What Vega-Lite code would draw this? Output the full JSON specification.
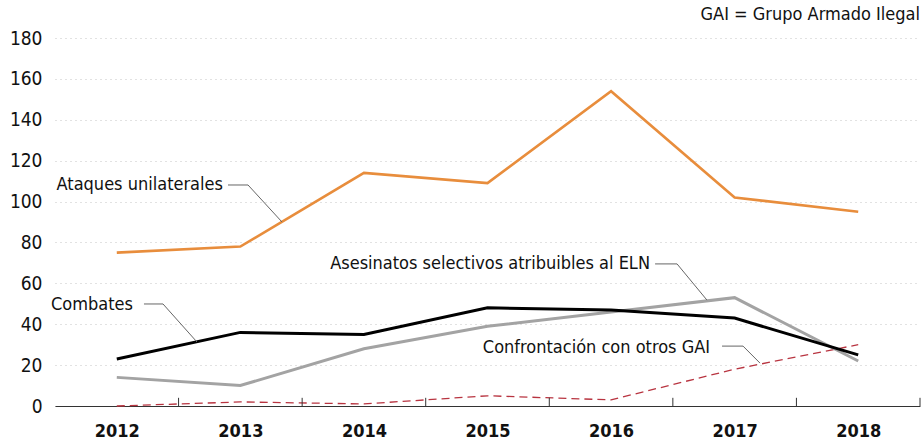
{
  "$schema": "https://vega.github.io/schema/vega-lite/v6.json",
  "autosize": "none",
  "width": 865,
  "height": 368,
  "padding": {"left": 55, "top": 38, "right": 3, "bottom": 35},
  "background": "white",
  "config": {
    "view": {"stroke": null},
    "font": "DejaVu Sans Condensed",
    "axis": {"labelFont": "DejaVu Sans Condensed", "labelColor": "#111"}
  },
  "datasets": {
    "series": [
      {"year": 2012, "value": 75, "series": "Ataques unilaterales"},
      {"year": 2013, "value": 78, "series": "Ataques unilaterales"},
      {"year": 2014, "value": 114, "series": "Ataques unilaterales"},
      {"year": 2015, "value": 109, "series": "Ataques unilaterales"},
      {"year": 2016, "value": 154, "series": "Ataques unilaterales"},
      {"year": 2017, "value": 102, "series": "Ataques unilaterales"},
      {"year": 2018, "value": 95, "series": "Ataques unilaterales"},
      {"year": 2012, "value": 14, "series": "Asesinatos selectivos atribuibles al ELN"},
      {"year": 2013, "value": 10, "series": "Asesinatos selectivos atribuibles al ELN"},
      {"year": 2014, "value": 28, "series": "Asesinatos selectivos atribuibles al ELN"},
      {"year": 2015, "value": 39, "series": "Asesinatos selectivos atribuibles al ELN"},
      {"year": 2016, "value": 46, "series": "Asesinatos selectivos atribuibles al ELN"},
      {"year": 2017, "value": 53, "series": "Asesinatos selectivos atribuibles al ELN"},
      {"year": 2018, "value": 22, "series": "Asesinatos selectivos atribuibles al ELN"},
      {"year": 2012, "value": 23, "series": "Combates"},
      {"year": 2013, "value": 36, "series": "Combates"},
      {"year": 2014, "value": 35, "series": "Combates"},
      {"year": 2015, "value": 48, "series": "Combates"},
      {"year": 2016, "value": 47, "series": "Combates"},
      {"year": 2017, "value": 43, "series": "Combates"},
      {"year": 2018, "value": 25, "series": "Combates"},
      {"year": 2012, "value": 0, "series": "Confrontación con otros GAI"},
      {"year": 2013, "value": 2, "series": "Confrontación con otros GAI"},
      {"year": 2014, "value": 1, "series": "Confrontación con otros GAI"},
      {"year": 2015, "value": 5, "series": "Confrontación con otros GAI"},
      {"year": 2016, "value": 3, "series": "Confrontación con otros GAI"},
      {"year": 2017, "value": 18, "series": "Confrontación con otros GAI"},
      {"year": 2018, "value": 30, "series": "Confrontación con otros GAI"}
    ],
    "ticks": [
      {"x": 2012.5}, {"x": 2013.5}, {"x": 2014.5}, {"x": 2015.5},
      {"x": 2016.5}, {"x": 2017.5}, {"x": 2018.5}
    ],
    "leaders": [
      {"id": "a", "o": 1, "x": 2012.9, "y": 108.1},
      {"id": "a", "o": 2, "x": 2013.062, "y": 108.1},
      {"id": "a", "o": 3, "x": 2013.337, "y": 90.0},
      {"id": "c", "o": 1, "x": 2012.22, "y": 49.9},
      {"id": "c", "o": 2, "x": 2012.374, "y": 49.9},
      {"id": "c", "o": 3, "x": 2012.649, "y": 31.3},
      {"id": "s", "o": 1, "x": 2016.356, "y": 69.5},
      {"id": "s", "o": 2, "x": 2016.534, "y": 69.5},
      {"id": "s", "o": 3, "x": 2016.776, "y": 51.8},
      {"id": "g", "o": 1, "x": 2016.898, "y": 29.3},
      {"id": "g", "o": 2, "x": 2017.068, "y": 29.3},
      {"id": "g", "o": 3, "x": 2017.205, "y": 21.0}
    ],
    "labels": [
      {"x": 2012.859, "y": 108.1, "text": "Ataques unilaterales"},
      {"x": 2012.131, "y": 49.4, "text": "Combates"},
      {"x": 2016.315, "y": 69.5, "text": "Asesinatos selectivos atribuibles al ELN"},
      {"x": 2016.801, "y": 28.4, "text": "Confrontación con otros GAI"},
      {"x": 2018.5, "y": 191.3, "text": "GAI = Grupo Armado Ilegal"}
    ]
  },
  "layer": [
    {
      "data": {"name": "series"},
      "transform": [{"filter": "datum.series === 'Confrontación con otros GAI'"}],
      "mark": {"type": "line", "clip": false, "color": "#B83440", "strokeWidth": 1.3, "strokeDash": [8, 5]},
      "encoding": {
        "x": {
          "field": "year", "type": "quantitative",
          "scale": {"domain": [2011.5, 2018.5], "nice": false, "zero": false},
          "axis": {
            "title": null, "values": [2012, 2013, 2014, 2015, 2016, 2017, 2018],
            "format": "d", "ticks": false, "grid": false,
            "domainColor": "#333", "domainWidth": 1,
            "labelFontSize": 18, "labelFontWeight": "bold", "labelPadding": 16
          }
        },
        "y": {
          "field": "value", "type": "quantitative",
          "scale": {"domain": [0, 180], "nice": false},
          "axis": {
            "title": null, "values": [0, 20, 40, 60, 80, 100, 120, 140, 160, 180],
            "ticks": false, "domain": false, "grid": true,
            "gridColor": "#c4c4c4", "gridDash": [1, 4], "gridWidth": 1,
            "labelFontSize": 19, "labelPadding": 13
          }
        }
      }
    },
    {
      "data": {"name": "series"},
      "transform": [{"filter": "datum.series === 'Asesinatos selectivos atribuibles al ELN'"}],
      "mark": {"type": "line", "clip": false, "color": "#A3A3A3", "strokeWidth": 3},
      "encoding": {
        "x": {"field": "year", "type": "quantitative"},
        "y": {"field": "value", "type": "quantitative"}
      }
    },
    {
      "data": {"name": "series"},
      "transform": [{"filter": "datum.series === 'Combates'"}],
      "mark": {"type": "line", "clip": false, "color": "#000000", "strokeWidth": 3},
      "encoding": {
        "x": {"field": "year", "type": "quantitative"},
        "y": {"field": "value", "type": "quantitative"}
      }
    },
    {
      "data": {"name": "series"},
      "transform": [{"filter": "datum.series === 'Ataques unilaterales'"}],
      "mark": {"type": "line", "clip": false, "color": "#E88D3C", "strokeWidth": 2.6},
      "encoding": {
        "x": {"field": "year", "type": "quantitative"},
        "y": {"field": "value", "type": "quantitative"}
      }
    },
    {
      "data": {"name": "ticks"},
      "mark": {"type": "rule", "color": "#333", "strokeWidth": 1},
      "encoding": {
        "x": {"field": "x", "type": "quantitative"},
        "y": {"datum": 0, "type": "quantitative"},
        "y2": {"datum": 4}
      }
    },
    {
      "data": {"name": "leaders"},
      "mark": {"type": "line", "color": "#666", "strokeWidth": 1, "clip": false},
      "encoding": {
        "x": {"field": "x", "type": "quantitative"},
        "y": {"field": "y", "type": "quantitative"},
        "detail": {"field": "id"},
        "order": {"field": "o", "type": "quantitative"}
      }
    },
    {
      "data": {"name": "labels"},
      "mark": {"type": "text", "align": "right", "baseline": "middle", "fontSize": 18, "color": "#111", "font": "DejaVu Sans Condensed"},
      "encoding": {
        "x": {"field": "x", "type": "quantitative"},
        "y": {"field": "y", "type": "quantitative"},
        "text": {"field": "text"}
      }
    }
  ]
}
